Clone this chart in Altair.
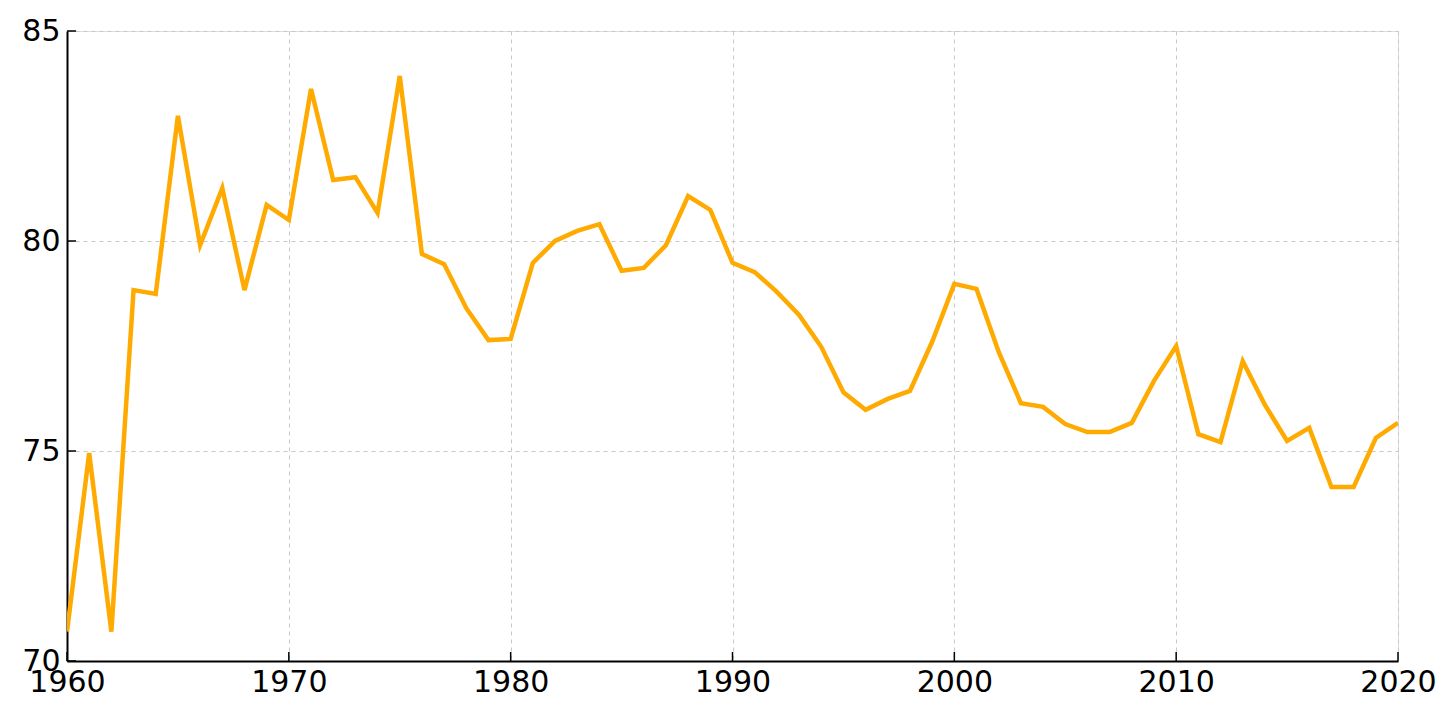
import altair as alt
import pandas as pd

years = list(range(1960, 2021))
values = [70.7, 74.95, 70.7, 78.83, 78.74, 82.98, 79.9, 81.26, 78.83, 80.86,
          80.5, 83.62, 81.45, 81.52, 80.67, 83.93, 79.69, 79.45, 78.4, 77.64,
          77.67, 79.48, 80.0, 80.24, 80.4, 79.29, 79.36, 79.9, 81.07, 80.74,
          79.48, 79.26, 78.79, 78.24, 77.48, 76.4, 75.98, 76.24, 76.43, 77.6,
          78.98, 78.86, 77.36, 76.14, 76.05, 75.64, 75.45, 75.45, 75.67, 76.67,
          77.5, 75.4, 75.21, 77.14, 76.1, 75.24, 75.55, 74.14, 74.14, 75.31,
          75.67]
x_ticks = [1960, 1970, 1980, 1990, 2000, 2010, 2020]
y_ticks = [70, 75, 80, 85]

W, H = 1331, 630
df = pd.DataFrame({"year": years, "value": values})
xt = pd.DataFrame({"t": x_ticks})
yt = pd.DataFrame({"t": y_ticks})

xscale = alt.Scale(domain=[1960, 2020], nice=False, zero=False)
yscale = alt.Scale(domain=[70, 85], nice=False, zero=False)

font = "DejaVu Sans"
xaxis = alt.Axis(values=x_ticks, format="d", title=None, ticks=False,
                 grid=True, gridDash=[4, 4], gridColor="#c8c8c8", gridWidth=1,
                 domainColor="black", domainWidth=2, labelFont=font,
                 labelFontSize=30, labelColor="black", labelPadding=6,
                 labelOverlap=False, labelBound=False, labelFlush=False)
yaxis = alt.Axis(values=y_ticks, title=None, ticks=False,
                 grid=True, gridDash=[4, 4], gridColor="#c8c8c8", gridWidth=1,
                 domainColor="black", domainWidth=2, labelFont=font,
                 labelFontSize=30, labelColor="black", labelPadding=7,
                 labelOverlap=False, labelBound=False, labelFlush=False)

line = alt.Chart(df).mark_line(color="#FFAA00", strokeWidth=4.5, clip=True).encode(
    x=alt.X("year:Q", scale=xscale, axis=xaxis),
    y=alt.Y("value:Q", scale=yscale, axis=yaxis),
)

xticks = alt.Chart(xt).mark_rule(color="black", strokeWidth=1.5).encode(
    x=alt.X("t:Q", scale=xscale),
    y=alt.value(H),
    y2=alt.value(H - 9),
)
yticks = alt.Chart(yt).mark_rule(color="black", strokeWidth=1.5).encode(
    y=alt.Y("t:Q", scale=yscale),
    x=alt.value(0),
    x2=alt.value(9),
)

chart = alt.layer(line, xticks, yticks).properties(
    width=W, height=H,
    autosize=alt.AutoSizeParams(type="none"),
    padding={"left": 59, "top": 23, "right": 50, "bottom": 50},
).configure_view(stroke=None).configure(background="white")

chart.save("out.html", embed_options={"renderer": "svg", "actions": False})
